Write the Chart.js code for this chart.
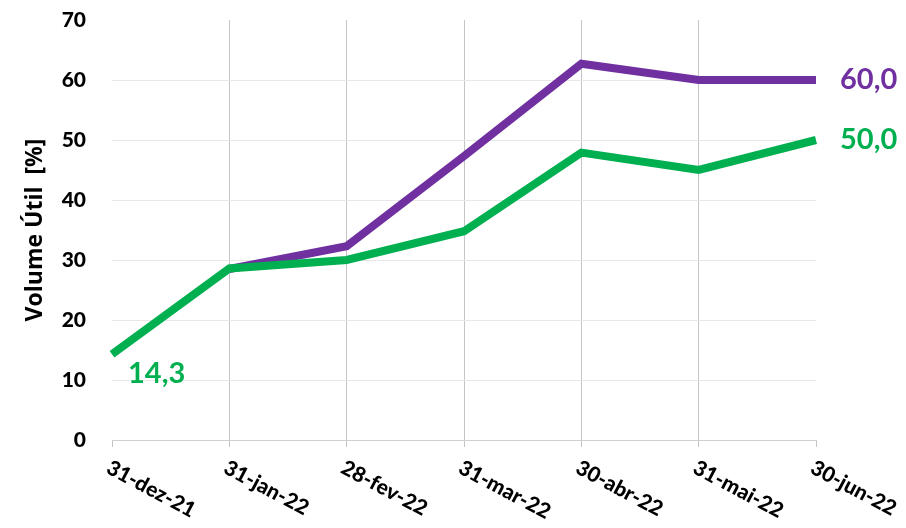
<!DOCTYPE html>
<html>
<head>
<meta charset="utf-8">
<script src="https://cdn.jsdelivr.net/npm/chart.js@4"></script>
<style>
  body { margin: 0; background: #ffffff; }
  #box { width: 906px; height: 528px; }
</style>
</head>
<body>
<div id="box"><canvas id="grafico" width="906" height="528"></canvas></div>
<script>
const datas = ["31-dez-21", "31-jan-22", "28-fev-22", "31-mar-22", "30-abr-22", "31-mai-22", "30-jun-22"];
const volumeVerde = [14.3, 28.6, 30.0, 34.8, 47.9, 45.0, 50.0];
const volumeRoxo = [null, 28.5, 32.3, 47.3, 62.7, 60.0, 60.0];
const ticksY = [0, 10, 20, 30, 40, 50, 60, 70];

const corVerde = "#00B050";
const corRoxa = "#7030A0";
const fonte = "Lato, 'Open Sans', sans-serif";

function formatar(v) {
  return v.toFixed(1).replace(".", ",");
}

// rótulos do eixo x inclinados para baixo e rótulos dos valores
const pluginRotulos = {
  id: "rotulos",
  afterDraw(chart) {
    const ctx = chart.ctx;
    const x = chart.scales.x;
    const y = chart.scales.y;

    ctx.save();
    ctx.fillStyle = "#000000";
    ctx.font = "900 21px " + fonte;
    ctx.textAlign = "left";
    ctx.textBaseline = "top";
    datas.forEach((d, i) => {
      const px = x.getPixelForValue(i);
      ctx.save();
      ctx.translate(px + 1, 457);
      ctx.rotate(28 * Math.PI / 180);
      ctx.fillText(d, 0, 0);
      ctx.restore();
    });

    ctx.font = "bold 29px " + fonte;
    ctx.textBaseline = "middle";
    ctx.fillStyle = corVerde;
    ctx.fillText(formatar(volumeVerde[0]), x.getPixelForValue(0) + 16, y.getPixelForValue(volumeVerde[0]) + 19);
    const ult = datas.length - 1;
    ctx.fillText(formatar(volumeVerde[ult]), x.getPixelForValue(ult) + 24, y.getPixelForValue(volumeVerde[ult]));
    ctx.fillStyle = corRoxa;
    ctx.fillText(formatar(volumeRoxo[ult]), x.getPixelForValue(ult) + 24, y.getPixelForValue(volumeRoxo[ult]));
    ctx.restore();
  }
};

const grafico = new Chart(document.getElementById("grafico"), {
  type: "line",
  data: {
    labels: datas,
    datasets: [
      {
        label: "Verde",
        data: volumeVerde,
        borderColor: corVerde,
        backgroundColor: corVerde,
        borderWidth: 8,
        pointRadius: 0,
        tension: 0,
        fill: false
      }, {
        label: "Roxo",
        data: volumeRoxo,
        borderColor: corRoxa,
        backgroundColor: corRoxa,
        borderWidth: 8,
        pointRadius: 0,
        tension: 0,
        fill: false
      }]
  },
  plugins: [pluginRotulos],
  options: {
    responsive: false,
    animation: false,
    layout: {
      padding: { left: 0, right: 90, top: 20, bottom: 0 }
    },
    plugins: {
      legend: { display: false },
      tooltip: { enabled: false },
      title: { display: false }
    },
    scales: {
      x: {
        offset: false,
        afterFit(scale) {
          scale.height = 88;
          scale.paddingLeft = 0;
          scale.paddingRight = 0;
        },
        ticks: { display: false },
        border: { display: true, color: "#d0d0d0", width: 1 },
        grid: {
          color: (c) => (c.index === 0 || c.index === datas.length - 1) ? "rgba(0,0,0,0)" : "#c4c4c4",
          tickColor: "#c4c4c4",
          tickLength: 7,
          lineWidth: 1
        }
      },
      y: {
        min: 0,
        max: 70,
        afterFit(scale) {
          scale.width = 112;
          scale.paddingTop = 0;
          scale.paddingBottom = 0;
        },
        afterBuildTicks(scale) { scale.ticks = ticksY.map(v => ({ value: v })); },
        border: { display: false },
        grid: {
          drawTicks: false,
          color: (c) => (c.tick.value === 0 || c.tick.value === 70) ? "rgba(0,0,0,0)" : "#e8e8e8",
          lineWidth: 1
        },
        ticks: {
          color: "#000000",
          padding: 26,
          font: { family: fonte, weight: "900", size: 21 }
        },
        title: {
          display: true,
          text: "Volume Útil  [%]",
          color: "#000000",
          padding: { top: 22, bottom: 0 },
          font: { family: "'Open Sans', sans-serif", weight: "bold", size: 23 }
        }
      }
    }
  }
});
</script>
</body>
</html>
